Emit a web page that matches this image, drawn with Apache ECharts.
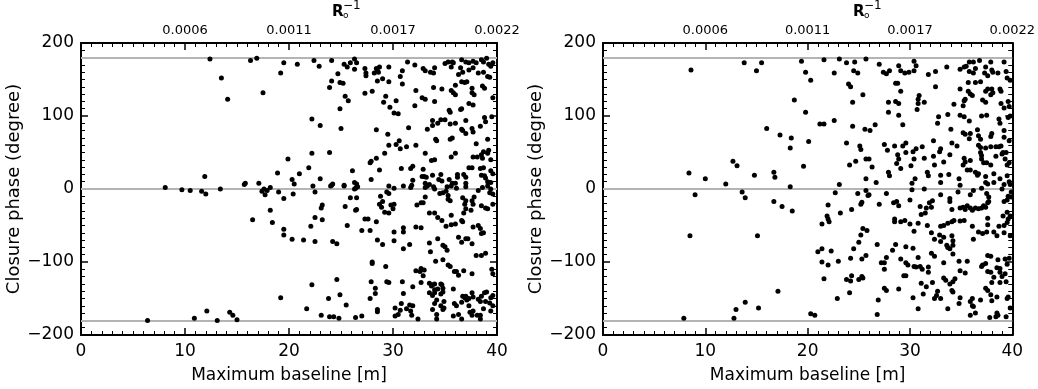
<!DOCTYPE html>
<html>
<head>
<meta charset="utf-8">
<script src="https://cdn.jsdelivr.net/npm/echarts@6/dist/echarts.min.js"></script>
<style>
  html, body { margin: 0; padding: 0; background: #fff; }
  #chart { width: 1038px; height: 389px; }
</style>
</head>
<body>
<div id="chart"></div>
<script>
// tick values / labels
const xTicks = [0, 10, 20, 30, 40];
const yTicks = [-200, -100, 0, 100, 200];
const topTickLabels = ['', '0.0006', '0.0011', '0.0017', '0.0022'];
const refLines = [180, 0, -180];

// [maximum baseline (m), closure phase (deg)] - left panel
const leftPoints = [
  [12.4,178],[13.5,152],[14.1,123],[16.3,176],[16.9,179],[17.5,132],[19.2,159],[19.5,173],[20.8,171],
  [19.9,41],[18.9,22],[11.9,17],[8.1,2],[9.7,-1],[10.5,-2],[11.6,-3],[12.0,-7],[13.4,0],[15.7,6],[15.8,8],[17.1,8],
  [17.4,-3],[17.6,0],[17.7,-8],[17.9,-2],[18.2,2],[19.0,-4],[19.5,-13],[20.3,13],[20.5,7],[20.4,-7],
  [18.2,-29],[16.5,-42],[18.4,-46],[19.5,-55],[19.5,-63],[20.3,-69],[19.2,-149],
  [6.4,-180],[10.9,-177],[12.1,-167],[13.1,-180],[14.3,-169],[14.6,-173],[15.0,-179],
  [22.4,176],[22.9,168],[24.1,176],[25.3,171],[25.6,167],[25.9,173],[26.3,178],[26.5,173],[26.3,164],
  [27.3,165],[27.4,159],[27.4,155],[28.2,159],[28.4,165],[28.5,162],[28.6,160],[28.7,167],[29.6,167],
  [30.7,154],[30.9,162],[30.9,144],[31.4,174],[32.1,170],[32.2,135],[32.1,114],[31.5,84],
  [24.7,158],[24.1,148],[23.9,139],[24.9,146],[25.2,145],[25.4,127],[25.7,121],[24.9,110],[25.0,83],
  [27.3,131],[28.0,134],[28.5,148],[29.0,151],[29.6,147],[29.3,127],[29.1,119],[29.7,112],[30.3,121],[30.1,104],[30.5,103],
  [22.2,96],[23.0,87],[28.4,81],[29.5,75],[30.6,66],[30.3,61],[30.7,55],[29.6,60],[31.3,58],
  [22.2,49],[23.9,50],[21.9,29],[21.0,21],[23.0,14],[24.1,5],[24.2,7],[25.3,5],[26.1,25],[26.3,9],[26.5,7],[26.6,3],
  [27.8,36],[27.9,38],[28.4,42],[28.7,26],[27.9,13],[29.2,49],[29.6,4],[30.1,1],[30.8,28],[31.7,28],[31.9,31],
  [31.0,4],[31.7,2],[31.8,5],[32.2,60],
  [22.3,4],[22.5,-4],[24.0,4],[25.3,4],[26.3,0],[26.4,1],[25.9,-12],[26.5,-12],[23.2,-22],[23.1,-26],[25.4,-24],[26.4,-29],[26.5,-28],
  [22.5,-39],[23.2,-42],[22.1,-51],[25.6,-50],[27.3,-41],[27.6,-41],[28.4,-45],[27.0,-57],[27.8,-57],
  [28.8,-10],[29.0,-17],[29.6,-6],[29.4,-4],[28.7,-21],[28.9,-25],[29.2,-32],[29.6,-33],[29.8,-22],[30.1,-21],[30.0,-27],
  [31.0,-53],[31.0,-59],[30.1,-59],[30.1,-71],[31.0,-82],[31.6,-76],[28.5,-70],[29.0,-76],
  [21.4,-70],[22.5,-72],[24.2,-72],[24.6,-75],[28.0,-100],[28.0,-102],[29.3,-106],[32.2,-112],
  [22.2,-131],[24.6,-124],[27.9,-127],[29.4,-127],[29.6,-128],[30.9,-127],[31.9,-134],[28.3,-136],[28.3,-143],[27.8,-150],
  [24.9,-145],[23.8,-150],[31.0,-143],[25.5,-159],[21.7,-164],[28.5,-165],[28.5,-168],
  [30.2,-163],[30.8,-157],[30.7,-166],[31.3,-164],[31.7,-167],[31.6,-159],[30.2,-174],[30.5,-172],[31.8,-173],
  [23.1,-173],[23.9,-175],[24.3,-175],[24.8,-177],[26.4,-176],[27.0,-174],
  [32.9,165],[33.1,162],[33.6,160],[33.9,159],[34.0,166],[35.0,172],[35.3,174],[35.7,174],[35.6,167],[35.8,173],
  [36.6,177],[37.0,174],[37.3,173],[37.7,175],[38.0,173],[38.5,177],[38.7,174],[39.0,179],[39.2,171],[39.4,168],[39.6,173],
  [36.5,166],[36.3,157],[36.7,160],[37.3,163],[37.7,166],[38.2,159],[38.7,160],[39.1,154],[39.3,153],
  [32.8,125],[33.1,123],[34.0,120],[33.9,139],[34.7,137],[35.6,135],[35.8,132],[36.0,129],[36.0,142],
  [36.6,147],[36.9,146],[37.1,147],[37.6,138],[37.6,132],[37.8,129],[38.6,141],[38.8,138],[39.6,125],
  [37.3,117],[37.7,115],[36.5,109],[36.6,110],[35.4,108],[35.5,105],[34.6,95],[35.0,95],[33.8,94],[33.8,87],[33.3,82],
  [34.3,90],[35.5,89],[36.0,90],[37.0,94],[36.6,82],[36.7,80],[37.6,83],[37.7,78],[38.8,98],[38.9,92],[38.4,86],[39.5,99],
  [34.1,68],[34.2,66],[35.5,68],[35.7,70],[37.0,76],[38.0,62],[39.1,68],
  [33.1,49],[33.7,39],[34.0,40],[35.6,44],[36.0,49],[37.7,44],[38.1,44],[38.5,47],[38.6,42],[38.7,51],[39.1,49],[39.2,53],[39.4,40],
  [32.9,27],[32.8,17],[33.0,17],[33.2,16],[33.8,19],[34.6,20],[34.4,13],[34.7,11],[31.9,12],[33.1,8],[33.5,6],
  [35.4,13],[35.7,8],[36.2,20],[36.2,16],[36.8,20],[37.0,16],[37.6,29],[37.3,29],[38.4,28],[38.7,29],[39.4,25],[39.6,21],[39.4,9],[39.1,10],
  [38.5,19],[38.8,18],[38.9,15],[36.0,8],[37.0,8],
  [33.1,2],[33.3,4],[33.9,3],[34.0,0],[35.2,3],[35.6,4],[36.1,1],[37.0,3],[38.2,-2],[38.6,2],[39.1,4],[39.3,-5],[39.4,0],[39.6,-7],
  [34.5,-6],[34.8,-5],[35.1,-3],[35.3,-9],[35.3,-14],[35.5,-16],[33.1,-11],[32.3,-22],[32.7,-19],[32.9,-19],
  [36.7,-12],[37.0,-16],[36.9,-21],[37.8,-11],[37.6,-16],[37.7,-21],[37.5,-29],[38.5,-23],[38.9,-26],[39.1,-27],[39.6,-21],
  [33.5,-33],[34.0,-33],[34.3,-39],[34.7,-43],[35.6,-36],[36.0,-48],[35.1,-51],[35.6,-49],[36.8,-33],[37.0,-27],
  [32.2,-52],[32.7,-53],[36.6,-43],[36.7,-45],[37.7,-52],[38.2,-50],[38.4,-54],[38.5,-61],[38.7,-60],
  [36.3,-66],[36.6,-73],[37.0,-68],[37.2,-68],[37.6,-75],[33.5,-74],[34.3,-68],[38.0,-91],[38.5,-91],[38.9,-88],
  [33.6,-86],[34.8,-77],[35.0,-79],[35.2,-84],[35.9,-113],[32.7,-109],[32.6,-113],[33.0,-111],[32.9,-119],
  [34.1,-99],[34.8,-97],[35.3,-104],[35.5,-106],[36.1,-113],[36.3,-118],[36.8,-112],[37.6,-116],[39.5,-110],[39.6,-116],
  [32.7,-128],[33.5,-129],[33.7,-133],[33.8,-131],[34.0,-130],[34.6,-130],[34.7,-131],[34.0,-138],[34.3,-137],[34.8,-136],
  [33.5,-142],[33.8,-146],[34.0,-142],[34.6,-144],[34.8,-141],[34.2,-152],[34.9,-154],[34.6,-160],[34.9,-163],[34.8,-165],[34.0,-157],
  [35.8,-137],[36.7,-147],[36.9,-149],[36.6,-155],[37.0,-147],[37.1,-152],[37.3,-150],[35.9,-157],[36.1,-160],
  [37.6,-142],[37.7,-148],[38.2,-151],[38.4,-154],[38.9,-154],[39.3,-156],[39.4,-149],[39.6,-146],[39.4,-167],[39.6,-160],
  [38.5,-147],[38.8,-142],[39.0,-141],[31.9,-160],[33.8,-165],[34.2,-172],[34.2,-178],[32.4,-178],
  [35.8,-174],[36.3,-172],[36.6,-178],[37.4,-169],[37.6,-173],[37.7,-167],[38.1,-173],[38.4,-173],[38.7,-164],[38.4,-178],[37.3,-160]
];

// right panel
const rightPoints = [
  [8.6,163],[8.4,22],[9.0,-8],[8.5,-64],[10.0,14],[7.9,-177],[12.0,7],[12.7,38],[13.1,32],[13.6,-4],[13.9,-12],
  [12.8,-177],[13.0,-165],[13.9,-155],[13.8,173],[15.0,162],[15.5,173],[14.8,19],[15.1,-64],[15.2,-163],
  [16.0,83],[16.7,23],[16.8,16],[16.7,-17],[17.5,-24],[17.1,-140],[17.3,74],[18.4,70],[18.3,56],[18.3,3],[18.5,-30],
  [18.7,122],[19.4,175],[19.8,160],[20.3,149],[19.8,105],[20.1,65],[19.6,31],[20.3,-171],[20.7,-173],
  [21.6,177],[23.1,178],[23.8,173],[24.6,174],[25.7,178],[22.6,159],[24.5,162],[24.9,159],[27.0,171],[27.4,160],[27.7,158],[28.0,162],
  [28.9,169],[29.1,162],[29.5,159],[29.9,160],[30.4,162],[30.4,175],[30.6,169],
  [24.0,144],[24.2,140],[25.4,129],[24.4,119],[28.6,145],[28.8,145],[29.1,134],[27.9,119],[28.6,120],[28.9,117],[27.9,105],[28.9,101],
  [21.2,89],[21.6,89],[22.6,94],[24.4,86],[25.6,82],[26.1,80],[26.6,88],[29.3,88],[30.7,109],
  [23.8,63],[25.1,59],[25.2,54],[27.5,61],[27.8,53],[28.5,59],[28.8,47],[28.9,41],[29.3,59],[29.6,63],[29.6,50],[30.3,51],[30.6,55],
  [24.1,33],[24.7,38],[25.7,41],[26.0,41],[26.3,30],[28.7,35],[29.1,28],[30.1,32],[30.4,41],[27.9,23],[28.0,18],[25.7,14],[26.7,9],[23.1,6],[30.2,8],[30.5,14],
  [22.7,-5],[24.9,-6],[25.7,-2],[25.9,-9],[26.0,-8],[27.7,-6],[30.2,-1],
  [25.3,-18],[25.2,-21],[27.0,-21],[28.4,-19],[28.7,-17],[28.9,-23],[30.0,-15],[22.0,-22],[24.3,-28],[23.2,-33],
  [21.9,-37],[22.0,-41],[22.1,-45],[21.4,-48],[28.5,-41],[28.5,-45],[29.1,-45],[29.5,-43],[30.0,-48],[30.4,-58],
  [25.4,-54],[25.8,-57],[25.2,-63],[25.0,-73],[24.5,-82],[21.0,-86],[21.4,-82],[22.3,-85],[25.7,-91],[25.3,-96],
  [26.8,-76],[28.6,-76],[28.3,-84],[29.6,-79],[30.3,-81],[27.7,-94],[29.1,-96],[29.6,-101],[29.8,-104],
  [21.4,-100],[22.0,-104],[23.0,-99],[24.2,-95],[27.2,-101],[27.5,-101],[27.5,-110],[30.4,-106],
  [21.6,-123],[23.8,-124],[24.2,-126],[24.3,-119],[25.0,-124],[25.3,-120],[25.4,-122],[29.4,-119],[29.6,-119],
  [27.5,-136],[27.7,-139],[28.9,-137],[24.1,-142],[22.9,-150],[26.9,-152],[30.3,-149],[26.8,-172],
  [31.8,157],[32.5,161],[33.6,167],
  [34.9,164],[35.3,167],[35.5,168],[35.8,174],[36.2,174],[36.8,176],[35.8,161],[36.2,159],[36.4,165],[37.4,167],[37.9,174],[38.0,163],
  [37.3,159],[37.6,155],[38.1,160],[38.6,159],[39.2,174],[39.4,161],[39.5,152],[39.8,149],
  [32.5,140],[34.9,137],[35.7,134],[35.9,130],[36.1,128],[35.7,146],[36.4,146],[36.9,147],
  [37.4,134],[37.6,137],[38.0,137],[38.1,132],[37.9,129],[38.8,137],[38.9,134],[38.9,117],[39.2,111],[39.6,120],[39.7,113],
  [30.9,128],[30.8,123],[30.8,117],[31.4,119],
  [35.4,123],[35.3,121],[35.2,114],[34.3,116],[37.1,122],[37.4,119],[37.0,100],[37.5,101],[32.8,99],[32.7,90],[33.7,102],[34.9,101],[35.3,99],[35.8,93],
  [38.7,96],[38.8,90],[39.6,98],[39.8,100],[34.0,82],[35.2,77],[35.4,75],[35.8,69],[35.9,76],[36.6,81],[36.7,73],[36.9,68],[37.9,72],[38.0,76],[39.2,71],[39.2,80],
  [36.7,60],[36.9,57],[37.4,56],[37.9,58],[38.4,58],[38.7,58],[38.9,59],[39.4,50],[39.7,66],
  [32.3,66],[33.0,55],[32.9,51],[34.1,63],[34.6,59],[31.2,58],[31.4,42],[32.3,45],[32.4,33],[33.3,37],[33.9,47],
  [35.3,42],[35.4,37],[35.9,39],[35.2,33],[35.6,26],[35.9,26],[36.4,23],[36.9,50],[37.0,46],[37.0,41],[37.2,36],[37.5,36],[37.9,33],
  [38.4,45],[39.0,48],[39.1,50],[39.3,41],[39.5,33],[39.7,36],
  [31.7,23],[31.8,18],[33.0,19],[33.0,9],[33.8,20],[34.8,14],[36.6,19],[36.7,21],[37.4,17],[37.4,9],[37.6,7],[38.2,21],[38.2,9],[38.8,14],
  [39.5,18],[39.7,10],[39.8,6],[39.2,6],
  [31.4,0],[33.0,-8],[33.9,-13],[34.7,-4],[34.9,5],[35.9,-8],[36.2,-2],[37.0,1],[37.5,-6],[37.7,-11],[39.0,0],[39.2,-17],[39.6,-10],[39.9,-11],[39.5,-15],[39.9,-4],
  [31.0,-24],[31.6,-26],[32.1,-25],[32.2,-16],[31.9,-19],[31.5,-33],[31.1,-35],[33.9,-17],[34.1,-28],
  [34.9,-26],[35.2,-25],[35.4,-28],[35.6,-23],[35.9,-26],[36.1,-29],[36.4,-26],[36.7,-27],[37.0,-26],[37.2,-23],[37.4,-25],[37.6,-19],[37.7,-17],[37.6,-40],
  [39.5,-32],[39.8,-37],[39.6,-41],[39.5,-46],[39.1,-37],
  [30.8,-47],[31.7,-50],[32.1,-60],[32.4,-69],
  [33.0,-51],[33.3,-50],[33.7,-47],[34.1,-45],[34.3,-43],[34.9,-44],[35.3,-43],
  [32.9,-63],[33.0,-72],[33.3,-66],[34.1,-64],[34.2,-71],[34.2,-77],[33.6,-77],[33.7,-80],[33.9,-82],[34.2,-89],
  [36.1,-51],[36.7,-59],[37.1,-61],[37.5,-59],[37.6,-49],[38.2,-59],[38.5,-64],[38.7,-51],[39.2,-60],[39.2,-50],[39.8,-64],[36.2,-69],
  [30.8,-94],[31.0,-106],[32.1,-88],[32.4,-92],[30.6,-107],[31.2,-110],[31.8,-107],[31.8,-114],[33.3,-101],
  [34.8,-99],[34.9,-112],[35.4,-115],[35.6,-99],[37.0,-106],[37.1,-104],[37.6,-91],[37.9,-92],[37.4,-102],
  [38.6,-97],[39.3,-96],[39.7,-95],[39.5,-103],[37.6,-113],[37.9,-114],[38.8,-114],[38.5,-108],[38.8,-109],[39.3,-116],[38.2,-121],[39.0,-120],[38.0,-128],
  [31.1,-129],[31.6,-134],[32.2,-128],[32.7,-140],[32.6,-146],[32.4,-150],[33.3,-122],[33.5,-125],[33.9,-130],[34.2,-127],[34.4,-123],
  [31.3,-144],[33.0,-150],[34.1,-139],[34.2,-141],[34.9,-149],
  [35.9,-154],[36.1,-150],[36.1,-160],[36.2,-161],[36.9,-152],[37.6,-139],[37.4,-136],[37.9,-145],[38.0,-153],[38.5,-148],[38.8,-128],[39.4,-127],[39.5,-150],[39.6,-148],
  [30.8,-164],[33.7,-164],[34.8,-157],[35.9,-173],[36.4,-170],[37.8,-176],[38.4,-175],[38.5,-170],[38.6,-173],[39.4,-175],[39.8,-163]
];

const FONT = 'DejaVu Sans';

// frame pieces built fresh for every axis: black box with inward major + minor ticks
function frameLine() { return { show: true, onZero: false, lineStyle: { color: '#000', width: 2 } }; }
function majorTick() { return { show: true, inside: true, length: 7, lineStyle: { color: '#000', width: 1.5 } }; }
function minorTicks() { return { show: true, splitNumber: 10, length: 4, lineStyle: { color: '#000', width: 1 } }; }

function bottomAxis(grid) {
  return {
    gridIndex: grid, type: 'value', position: 'bottom',
    min: xTicks[0], max: xTicks[xTicks.length - 1], interval: xTicks[1] - xTicks[0],
    axisLine: frameLine(), axisTick: majorTick(), minorTick: minorTicks(),
    axisLabel: { color: '#000', fontSize: 17, fontFamily: FONT, margin: 8, showMinLabel: true, showMaxLabel: true },
    splitLine: { show: false },
    name: 'Maximum baseline [m]', nameLocation: 'middle', nameGap: 32,
    nameTextStyle: { color: '#000', fontSize: 17, fontFamily: FONT }
  };
}

function topAxis(grid) {
  return {
    gridIndex: grid, type: 'value', position: 'top',
    min: xTicks[0], max: xTicks[xTicks.length - 1], interval: xTicks[1] - xTicks[0],
    axisLine: frameLine(), axisTick: majorTick(), minorTick: minorTicks(),
    axisLabel: {
      color: '#000', fontSize: 13, fontFamily: FONT, margin: 6, showMinLabel: true, showMaxLabel: true,
      formatter: v => topTickLabels[xTicks.indexOf(v)] || ''
    },
    splitLine: { show: false }
  };
}

function leftAxis(grid) {
  return {
    gridIndex: grid, type: 'value', position: 'left',
    min: yTicks[0], max: yTicks[yTicks.length - 1], interval: yTicks[1] - yTicks[0],
    axisLine: frameLine(), axisTick: majorTick(), minorTick: minorTicks(),
    axisLabel: {
      color: '#000', fontSize: 17, fontFamily: FONT, margin: 7, showMinLabel: true, showMaxLabel: true,
      formatter: v => String(v).replace('-', '\u2212')
    },
    splitLine: { show: false },
    name: 'Closure phase (degree)', nameLocation: 'middle', nameGap: 55,
    nameTextStyle: { color: '#000', fontSize: 18, fontFamily: FONT }
  };
}

function rightAxis(grid) {
  return {
    gridIndex: grid, type: 'value', position: 'right',
    min: yTicks[0], max: yTicks[yTicks.length - 1], interval: yTicks[1] - yTicks[0],
    axisLine: frameLine(), axisTick: majorTick(), minorTick: minorTicks(),
    axisLabel: { show: false },
    splitLine: { show: false }
  };
}

function dots(points, axisIdx) {
  return {
    type: 'scatter', xAxisIndex: axisIdx, yAxisIndex: axisIdx,
    data: points, symbol: 'circle', symbolSize: 5,
    itemStyle: { color: '#000', opacity: 1 },
    markLine: {
      silent: true, symbol: 'none', z: 1,
      label: { show: false },
      lineStyle: { color: '#b4b4b4', width: 2, type: 'solid', opacity: 1 },
      data: refLines.map(v => ({ yAxis: v }))
    }
  };
}

// R_o^-1 label above each panel
function rLabel(left) {
  return {
    type: 'group', left: left, top: 0,
    children: [
      { type: 'text', x: 0, y: 5, style: { text: 'R', font: 'bold 15px "DejaVu Sans"', fill: '#000', verticalAlign: 'top' } },
      { type: 'text', x: 11, y: 11, style: { text: 'o', font: '9px "DejaVu Sans"', fill: '#000', verticalAlign: 'top' } },
      { type: 'text', x: 11, y: 0, style: { text: '\u22121', font: '12px "DejaVu Sans"', fill: '#000', verticalAlign: 'top' } }
    ]
  };
}

const chart = echarts.init(document.getElementById('chart'));
chart.setOption({
  backgroundColor: '#fff',
  animation: false,
  grid: [
    { left: 81, right: 541, top: 43, bottom: 53 },
    { left: 603, right: 19, top: 43, bottom: 53 }
  ],
  xAxis: [bottomAxis(0), topAxis(0), bottomAxis(1), topAxis(1)],
  yAxis: [leftAxis(0), rightAxis(0), leftAxis(1), rightAxis(1)],
  series: [dots(leftPoints, 0), dots(rightPoints, 2)],
  graphic: [rLabel(332), rLabel(853)]
});
</script>
</body>
</html>
